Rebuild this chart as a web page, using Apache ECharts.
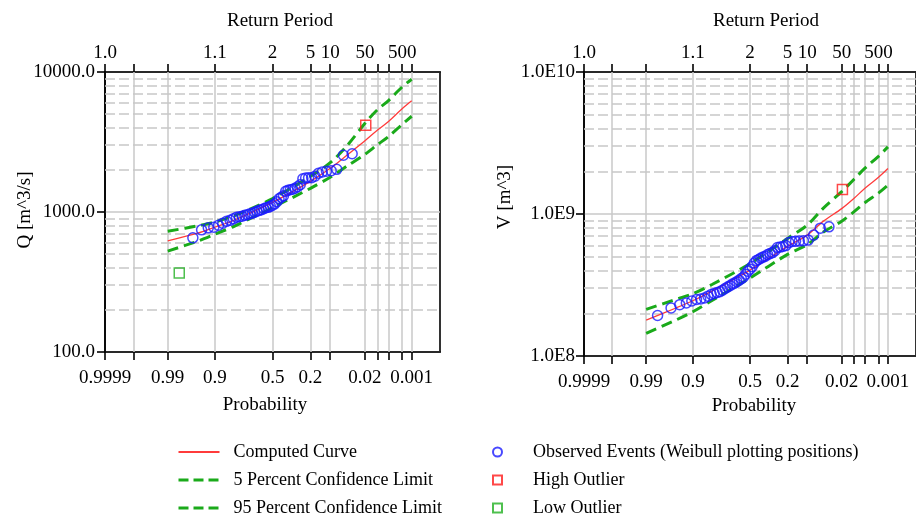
<!DOCTYPE html>
<html><head><meta charset="utf-8">
<script src="https://cdn.jsdelivr.net/npm/echarts@6/dist/echarts.min.js"></script>
<style>html,body{margin:0;padding:0;background:#fff}#c{width:916px;height:516px}</style>
</head><body><div id="c"></div>
<script>
// ---------- axis ticks / labels ----------
const tickProbs = [0.9999, 0.999, 0.99, 0.9, 0.5, 0.2, 0.1, 0.02, 0.01, 0.005, 0.002, 0.001];
const gridProbs = [0.999, 0.99, 0.9, 0.5, 0.2, 0.1, 0.02, 0.01, 0.005, 0.002, 0.001];
const probLabelProbs = [0.9999, 0.99, 0.9, 0.5, 0.2, 0.02, 0.001];
const probLabels = ['0.9999', '0.99', '0.9', '0.5', '0.2', '0.02', '0.001'];
const retLabelProbs = [0.9999, 0.9, 0.5, 0.2, 0.1, 0.02, 0.002];
const retLabels = ['1.0', '1.1', '2', '5', '10', '50', '500'];
const minorQ = [200,300,400,500,600,700,800,900,2000,3000,4000,5000,6000,7000,8000,9000];
const minorV = [2e8,3e8,4e8,5e8,6e8,7e8,8e8,9e8,2e9,3e9,4e9,5e9,6e9,7e9,8e9,9e9];

// ---------- curves (exceedance probability) ----------
const curveProb = [0.99, 0.95, 0.9, 0.8, 0.5, 0.2, 0.1, 0.05, 0.02, 0.01, 0.005, 0.002, 0.001];
const qComputed = [621, 708, 778, 877, 1172, 1656, 2051, 2535, 3228, 3837, 4429, 5459, 6223];
const q5Limit   = [728, 798, 849, 942, 1247, 1799, 2250, 2950, 4300, 5370, 6250, 7820, 8870];
const q95Limit  = [526, 621, 693, 794, 1075, 1476, 1771, 2118, 2582, 3020, 3460, 4227, 4830];
const vComputed = [1.792e8, 2.187e8, 2.449e8, 2.877e8, 4.027e8, 5.915e8, 7.1e8, 8.91e8, 1.091e9, 1.286e9, 1.52e9, 1.814e9, 2.092e9];
const v5Limit   = [2.131e8, 2.51e8, 2.744e8, 3.2e8, 4.475e8, 6.73e8, 8.35e8, 1.101e9, 1.436e9, 1.75e9, 2.101e9, 2.549e9, 2.968e9];
const v95Limit  = [1.444e8, 1.8e8, 2.049e8, 2.47e8, 3.538e8, 5.193e8, 6.086e8, 7.464e8, 8.906e8, 1.034e9, 1.202e9, 1.404e9, 1.596e9];

// ---------- observed events (Weibull plotting positions) ----------
const obsProbQ = [0.0385,0.0577,0.0769,0.0962,0.1154,0.1346,0.1538,0.1731,0.1923,0.2115,0.2308,0.25,0.2692,0.2885,0.3077,0.3269,0.3462,0.3654,0.3846,0.4038,0.4231,0.4423,0.4615,0.4808,0.5,0.5192,0.5385,0.5577,0.5769,0.5962,0.6154,0.6346,0.6538,0.6731,0.6923,0.7115,0.7308,0.75,0.7692,0.7885,0.8077,0.8269,0.8462,0.8654,0.8846,0.9038,0.9231,0.9423,0.9615];
const obsQ = [2605,2541,2018,1969,1953,1931,1890,1799,1760,1755,1750,1726,1564,1514,1477,1453,1441,1429,1405,1305,1274,1243,1183,1144,1117,1098,1080,1072,1054,1037,1028,1012,995,979,971,955,947,932,924,917,894,872,858,831,804,778,771,746,654];
const obsProbV = [0.0385,0.0577,0.0769,0.0962,0.1154,0.1346,0.1538,0.1731,0.1923,0.2115,0.2308,0.25,0.2692,0.2885,0.3077,0.3269,0.3462,0.3654,0.3846,0.4038,0.4231,0.4423,0.4615,0.4808,0.5,0.5192,0.5385,0.5577,0.5769,0.5962,0.6154,0.6346,0.6538,0.6731,0.6923,0.7115,0.7308,0.75,0.7692,0.7885,0.8077,0.8269,0.8462,0.8654,0.8846,0.9038,0.9231,0.9423,0.9615,0.9808];
const obsV = [8.12e8,7.95e8,7.10e8,6.55e8,6.47e8,6.45e8,6.42e8,6.40e8,6.29e8,5.99e8,5.90e8,5.85e8,5.80e8,5.52e8,5.35e8,5.26e8,5.18e8,5.05e8,4.97e8,4.89e8,4.78e8,4.70e8,4.51e8,4.26e8,4.09e8,3.96e8,3.77e8,3.60e8,3.51e8,3.42e8,3.34e8,3.26e8,3.21e8,3.13e8,3.06e8,2.99e8,2.91e8,2.84e8,2.80e8,2.75e8,2.71e8,2.64e8,2.56e8,2.52e8,2.50e8,2.44e8,2.36e8,2.30e8,2.18e8,1.93e8];
const highOutlierProbQ = [0.0192], highOutlierQ = [4160];
const lowOutlierProbQ = [0.9808], lowOutlierQ = [367];
const highOutlierProbV = [0.0192], highOutlierV = [1.488e9];

// ---------- normal probability scale helper ----------
function invNorm(p) {
  const a=[-3.969683028665376e+01,2.209460984245205e+02,-2.759285104469687e+02,1.383577518672690e+02,-3.066479806614716e+01,2.506628277459239e+00];
  const b=[-5.447609879822406e+01,1.615858368580409e+02,-1.556989798598866e+02,6.680131188771972e+01,-1.328068155288572e+01];
  const c=[-7.784894002430293e-03,-3.223964580411365e-01,-2.400758277161838e+00,-2.549732539343734e+00,4.374664141464968e+00,2.938163982698783e+00];
  const d=[7.784695709041462e-03,3.224671290700398e-01,2.445134137142996e+00,3.754408661907416e+00];
  const pl=0.02425, ph=1-pl; let q,r;
  if (p<pl){q=Math.sqrt(-2*Math.log(p));return (((((c[0]*q+c[1])*q+c[2])*q+c[3])*q+c[4])*q+c[5])/((((d[0]*q+d[1])*q+d[2])*q+d[3])*q+1);}
  if (p<=ph){q=p-0.5;r=q*q;return (((((a[0]*r+a[1])*r+a[2])*r+a[3])*r+a[4])*r+a[5])*q/(((((b[0]*r+b[1])*r+b[2])*r+b[3])*r+b[4])*r+1);}
  q=Math.sqrt(-2*Math.log(1-p));return -(((((c[0]*q+c[1])*q+c[2])*q+c[3])*q+c[4])*q+c[5])/((((d[0]*q+d[1])*q+d[2])*q+d[3])*q+1);
}
const zOf = pe => invNorm(1 - pe);
const zMin = zOf(0.9999), zMax = zOf(0.0001);
const pairs = (probs, vals) => probs.map((p, i) => [zOf(p), vals[i]]);

const FONT = 'Liberation Serif';
const RED = '#ff3b3b', GREEN = '#1aaa1a', BLUE = '#1a1aff', GRID = '#c8c8c8';

function labelFmt(probs, labels) {
  return function (v) {
    for (let i = 0; i < probs.length; i++) if (Math.abs(zOf(probs[i]) - v) < 1e-6) return labels[i];
    return '';
  };
}
function xAxisDef(gi, pos) {
  const bottom = pos === 'bottom';
  return {
    type: 'value', gridIndex: gi, position: pos, min: zMin, max: zMax,
    axisLine: { show: true, onZero: false, lineStyle: { color: '#000', width: 1.6 } },
    axisTick: { show: true, inside: false, length: 8, customValues: tickProbs.map(zOf), lineStyle: { color: '#000', width: 1.6 } },
    axisLabel: {
      show: true, customValues: (bottom ? probLabelProbs : retLabelProbs).map(zOf),
      formatter: bottom ? labelFmt(probLabelProbs, probLabels) : labelFmt(retLabelProbs, retLabels),
      color: '#000', fontFamily: FONT, fontSize: 19, margin: bottom ? 17 : 9
    },
    splitLine: { show: false }
  };
}
function yAxisDef(gi, min, max, fmt, margin) {
  return {
    type: 'log', logBase: 10, gridIndex: gi, min: min, max: max,
    axisLine: { show: true, onZero: false, lineStyle: { color: '#000', width: 1.6 } },
    axisTick: { show: true, inside: false, length: 8, lineStyle: { color: '#000', width: 1.6 } },
    axisLabel: { color: '#000', fontFamily: FONT, fontSize: 19, margin: margin, formatter: fmt },
    splitLine: { show: true, lineStyle: { color: GRID, width: 1.5 } }
  };
}
function gridSeries(xi, yi, minor, anchorY) {
  return {
    type: 'line', xAxisIndex: xi, yAxisIndex: yi, data: [[0, anchorY]], symbol: 'none',
    lineStyle: { opacity: 0 }, silent: true, z: 1, legendHoverLink: false,
    markLine: {
      silent: true, symbol: ['none', 'none'], z: 1, animation: false, label: { show: false },
      emphasis: { disabled: true },
      data: gridProbs.map(p => ({ xAxis: zOf(p), lineStyle: { color: GRID, width: 1.5, type: 'solid' } }))
        .concat(minor.map(v => ({ yAxis: v, lineStyle: { color: GRID, width: 1.5, type: [10, 4] } })))
    }
  };
}
function curve(name, xi, yi, vals, color, dashed) {
  return {
    name: name, type: 'line', xAxisIndex: xi, yAxisIndex: yi, data: pairs(curveProb, vals),
    symbol: 'none', smooth: 0.3, z: 3,
    lineStyle: dashed ? { color: color, width: 3, type: [11, 6] } : { color: color, width: 1.3 },
    itemStyle: { color: color }
  };
}
function points(name, xi, yi, probs, vals, symbol, color, size) {
  return {
    name: name, type: 'scatter', xAxisIndex: xi, yAxisIndex: yi, data: pairs(probs, vals),
    symbol: symbol, symbolSize: size, z: 4,
    itemStyle: { color: 'rgba(0,0,0,0)', borderColor: color, borderWidth: 1.5 }
  };
}

const legendText = { fontFamily: FONT, fontSize: 18, color: '#000', lineHeight: 16 };
const chart = echarts.init(document.getElementById('c'), null, { renderer: 'canvas' });
chart.setOption({
  animation: false,
  backgroundColor: '#fff',
  grid: [
    { left: 105, top: 72, width: 335, height: 280, show: true, borderColor: '#000', borderWidth: 1.6, backgroundColor: 'rgba(0,0,0,0)' },
    { left: 584, top: 72, width: 333, height: 284, show: true, borderColor: '#000', borderWidth: 1.6, backgroundColor: 'rgba(0,0,0,0)' }
  ],
  xAxis: [xAxisDef(0, 'bottom'), xAxisDef(0, 'top'), xAxisDef(1, 'bottom'), xAxisDef(1, 'top')],
  yAxis: [
    yAxisDef(0, 100, 10000, v => Number(v).toFixed(1), 10),
    yAxisDef(1, 1e8, 1e10, v => '1.0E' + Math.round(Math.log10(v)), 9)
  ],
  legend: [
    {
      left: 177, top: 443, height: 100, padding: 0, orient: 'vertical', itemWidth: 41, itemHeight: 14, itemGap: 10, selectedMode: false,
      itemStyle: { opacity: 0, borderWidth: 0 },
      data: [
        { name: 'Computed Curve' },
        { name: '5 Percent Confidence Limit', lineStyle: { width: 3, type: [10, 5] } },
        { name: '95 Percent Confidence Limit', lineStyle: { width: 3, type: [10, 5] } }
      ],
      textStyle: Object.assign({ padding: [0, 0, 0, 9] }, legendText)
    },
    {
      left: 492, top: 443, height: 100, padding: 0, orient: 'vertical', itemWidth: 9, itemHeight: 9, itemGap: 10, selectedMode: false,
      data: ['Observed Events (Weibull plotting positions)', 'High Outlier', 'Low Outlier'],
      textStyle: Object.assign({ padding: [0, 0, 0, 26] }, legendText)
    }
  ],
  graphic: [
    { type: 'text', x: 280, y: 21, style: { text: 'Return Period', font: '19px "Liberation Serif"', fill: '#000', align: 'center', verticalAlign: 'middle' } },
    { type: 'text', x: 766, y: 21, style: { text: 'Return Period', font: '19px "Liberation Serif"', fill: '#000', align: 'center', verticalAlign: 'middle' } },
    { type: 'text', x: 265, y: 405, style: { text: 'Probability', font: '19px "Liberation Serif"', fill: '#000', align: 'center', verticalAlign: 'middle' } },
    { type: 'text', x: 754, y: 406, style: { text: 'Probability', font: '19px "Liberation Serif"', fill: '#000', align: 'center', verticalAlign: 'middle' } },
    { type: 'text', x: 25, y: 210, rotation: Math.PI / 2, style: { text: 'Q [m^3/s]', font: '19px "Liberation Serif"', fill: '#000', align: 'center', verticalAlign: 'middle' } },
    { type: 'text', x: 505, y: 197, rotation: Math.PI / 2, style: { text: 'V [m^3]', font: '19px "Liberation Serif"', fill: '#000', align: 'center', verticalAlign: 'middle' } }
  ],
  series: [
    gridSeries(0, 0, minorQ, 1000),
    gridSeries(2, 1, minorV, 1e9),
    curve('Computed Curve', 0, 0, qComputed, RED, false),
    curve('5 Percent Confidence Limit', 0, 0, q5Limit, GREEN, true),
    curve('95 Percent Confidence Limit', 0, 0, q95Limit, GREEN, true),
    points('Observed Events (Weibull plotting positions)', 0, 0, obsProbQ, obsQ, 'circle', BLUE, 10),
    points('High Outlier', 0, 0, highOutlierProbQ, highOutlierQ, 'rect', '#ff1a1a', 10),
    points('Low Outlier', 0, 0, lowOutlierProbQ, lowOutlierQ, 'rect', '#22b022', 10),
    curve('Computed Curve', 2, 1, vComputed, RED, false),
    curve('5 Percent Confidence Limit', 2, 1, v5Limit, GREEN, true),
    curve('95 Percent Confidence Limit', 2, 1, v95Limit, GREEN, true),
    points('Observed Events (Weibull plotting positions)', 2, 1, obsProbV, obsV, 'circle', BLUE, 10),
    points('High Outlier', 2, 1, highOutlierProbV, highOutlierV, 'rect', '#ff1a1a', 10)
  ]
});
</script></body></html>
